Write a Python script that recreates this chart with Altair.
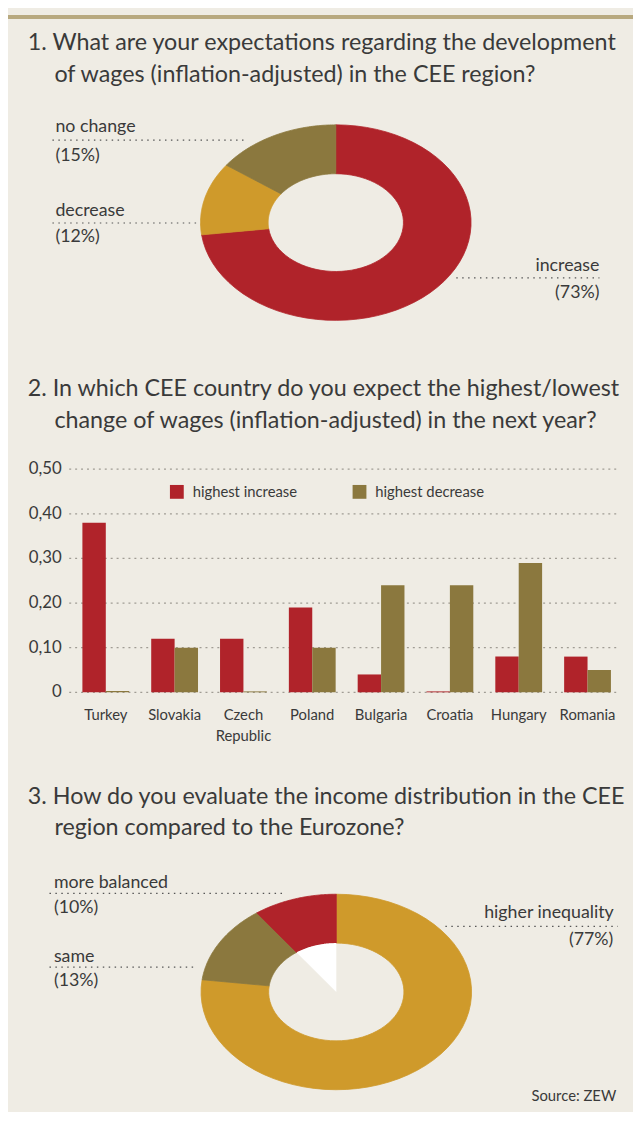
import altair as alt
import pandas as pd

# ---------------- data ----------------
Q1_CATS = ["increase", "decrease", "no change"]
Q1_VALS = [73, 12, 15]
Q1_COLORS = ["#b0232a", "#cf9a2b", "#8b783e"]

COUNTRIES = ["Turkey", "Slovakia", "Czech Republic", "Poland", "Bulgaria", "Croatia", "Hungary", "Romania"]
HIGHEST_INCREASE = [0.38, 0.12, 0.12, 0.19, 0.04, 0.002, 0.08, 0.08]
HIGHEST_DECREASE = [0.003, 0.10, 0.002, 0.10, 0.24, 0.24, 0.29, 0.05]
SERIES = ["highest increase", "highest decrease"]
SERIES_COLORS = ["#b0232a", "#8b783e"]
Y_TICKS = [0, 0.1, 0.2, 0.3, 0.4, 0.5]

Q3_CATS = ["higher inequality", "same", "more balanced"]
Q3_VALS = [77, 13, 10]
Q3_COLORS = ["#cf9a2b", "#8b783e", "#b0232a"]

FONT = "Lato"
TXT = "#3a3a3a"
BG = "#efece4"
W = 633
TS = 23.6


def blank():
    return alt.Chart(alt.Data(values=[{}]))


def txt(s, x, y, size, align="left", baseline="alphabetic", color=TXT):
    return blank().mark_text(text=s, align=align, baseline=baseline, fontSize=size,
                             font=FONT, color=color).encode(x=alt.value(x), y=alt.value(y))


def dots(x1, x2, y):
    return blank().mark_rule(color="#555555", strokeWidth=1.2, strokeDash=[1.5, 4.5]).encode(
        x=alt.value(x1), x2=alt.value(x2), y=alt.value(y))


def donut(cats, vals, colors, cx, cy, rx, ry, white_cat=None):
    df = pd.DataFrame({"cat": cats, "value": vals, "idx": list(range(len(cats)))})
    xs = alt.Scale(domain=[-1, 1], range=[cx - rx, cx + rx], nice=False, zero=False)
    ys = alt.Scale(domain=[-1, 1], range=[cy + ry, cy - ry], nice=False, zero=False)
    cs = alt.Scale(domain=cats, range=colors)
    base = (alt.Chart(df)
            .transform_window(cum="sum(value)", sort=[alt.SortField("idx")], frame=[None, 0])
            .transform_joinaggregate(total="sum(value)")
            .transform_calculate(a0="(datum.cum-datum.value)/datum.total*2*PI",
                                 a1="datum.cum/datum.total*2*PI",
                                 pts="sequence(0,122)")
            .transform_flatten(["pts"], as_=["k"])
            .transform_calculate(t="datum.k<=60 ? datum.k/60 : (121-datum.k)/60"))
    ring = (base.transform_calculate(ang="datum.a0+(datum.a1-datum.a0)*datum.t",
                                     r="datum.k<=60 ? 1 : 0.5")
            .transform_calculate(px="datum.r*sin(datum.ang)", py="datum.r*cos(datum.ang)")
            .mark_line(filled=True, interpolate="linear-closed", strokeWidth=0.8)
            .encode(x=alt.X("px:Q", scale=xs, axis=None),
                    y=alt.Y("py:Q", scale=ys, axis=None),
                    color=alt.Color("cat:N", scale=cs, legend=None),
                    stroke=alt.Stroke("cat:N", scale=cs, legend=None),
                    order=alt.Order("k:Q")))
    layers = [ring]
    if white_cat is not None:
        wedge = (base.transform_filter(alt.datum.cat == white_cat)
                 .transform_calculate(ang="datum.a0+(datum.a1-datum.a0)*datum.t",
                                      r="datum.k<=60 ? 0.5 : 0")
                 .transform_calculate(px="datum.r*sin(datum.ang)", py="datum.r*cos(datum.ang)")
                 .mark_line(filled=True, interpolate="linear-closed", strokeWidth=0, color="#ffffff")
                 .encode(x=alt.X("px:Q", scale=xs, axis=None),
                         y=alt.Y("py:Q", scale=ys, axis=None),
                         order=alt.Order("k:Q")))
        layers.append(wedge)
    return layers


# ---------------- panel 1 ----------------
p1_layers = [
    blank().mark_rect(color="#b8a97f").encode(x=alt.value(0), x2=alt.value(W), y=alt.value(0), y2=alt.value(4)),
    txt("1. What are your expectations regarding the development", 20, 35, TS),
    txt("of wages (inflation-adjusted) in the CEE region?", 47, 68, TS),
]
p1_layers += donut(Q1_CATS, Q1_VALS, Q1_COLORS, 332, 210.3, 137, 99)
p1_layers += [
    txt("no change", 48, 119, 18), dots(45, 242, 126.7), txt("(15%)", 48, 148, 18),
    txt("decrease", 48, 204, 18), dots(45, 192, 210.7), txt("(12%)", 48, 230, 18),
    txt("increase", 599, 259, 18, align="right"), dots(454, 599, 266.3),
    txt("(73%)", 599, 287, 18, align="right"),
]
p1 = alt.layer(*p1_layers).properties(width=W, height=357)

# ---------------- panel 2 ----------------
bars_df = pd.DataFrame({
    "country": COUNTRIES * 2,
    "series": [SERIES[0]] * len(COUNTRIES) + [SERIES[1]] * len(COUNTRIES),
    "value": HIGHEST_INCREASE + HIGHEST_DECREASE,
})
xscale = alt.Scale(domain=COUNTRIES, range=[75.35, 610.65], paddingInner=0.32, paddingOuter=0)
yscale = alt.Scale(domain=[0, 0.5], range=[329, 103], nice=False, zero=False)
ticks_df = pd.DataFrame({"v": Y_TICKS})

grid = (alt.Chart(ticks_df).mark_rule(color="#a09c94", strokeWidth=1.2, strokeDash=[2, 4])
        .encode(y=alt.Y("v:Q", scale=yscale, axis=None), x=alt.value(62), x2=alt.value(618)))
ylabels = (alt.Chart(ticks_df)
           .transform_calculate(lbl="datum.v == 0 ? '0' : replace(format(datum.v, '.2f'), '.', ',')")
           .mark_text(align="right", baseline="middle", fontSize=17, font=FONT, color=TXT)
           .encode(y=alt.Y("v:Q", scale=yscale, axis=None), x=alt.value(54.5), text="lbl:N"))
bars = (alt.Chart(bars_df).mark_bar()
        .encode(x=alt.X("country:N", sort=COUNTRIES, scale=xscale, axis=None),
                xOffset=alt.XOffset("series:N", sort=SERIES, scale=alt.Scale(domain=SERIES)),
                y=alt.Y("value:Q", scale=yscale, axis=None),
                color=alt.Color("series:N", scale=alt.Scale(domain=SERIES, range=SERIES_COLORS), legend=None)))
xlabels = (alt.Chart(pd.DataFrame({"country": COUNTRIES}))
           .transform_calculate(lbl="replace(datum.country, ' ', '\\n')")
           .mark_text(baseline="middle", fontSize=15, font=FONT, color=TXT, lineBreak="\n", lineHeight=21)
           .encode(x=alt.X("country:N", sort=COUNTRIES, scale=xscale, axis=None),
                   y=alt.value(352), text="lbl:N"))
p2_layers = [
    txt("2. In which CEE country do you expect the highest/lowest", 20, 29, TS),
    txt("change of wages (inflation-adjusted) in the next year?", 47, 61, TS),
    grid, ylabels, bars, xlabels,
    blank().mark_rect(color=SERIES_COLORS[0]).encode(x=alt.value(164), x2=alt.value(178), y=alt.value(119), y2=alt.value(133)),
    txt(SERIES[0], 187, 126, 15, baseline="middle"),
    blank().mark_rect(color=SERIES_COLORS[1]).encode(x=alt.value(349), x2=alt.value(363), y=alt.value(119), y2=alt.value(133)),
    txt(SERIES[1], 372, 126, 15, baseline="middle"),
]
p2 = alt.layer(*p2_layers).properties(width=W, height=395)

# ---------------- panel 3 ----------------
p3_layers = [
    txt("3. How do you evaluate the income distribution in the CEE", 20, 47, TS),
    txt("region compared to the Eurozone?", 47, 79, TS),
]
p3_layers += donut(Q3_CATS, Q3_VALS, Q3_COLORS, 332.5, 237.5, 137, 99, white_cat="more balanced")
p3_layers += [
    txt("more balanced", 46.5, 132.7, 18), dots(42, 278, 137.7), txt("(10%)", 46.5, 158, 18),
    txt("same", 46.5, 206.7, 18), dots(42, 188.6, 212.3), txt("(13%)", 46.5, 231, 18),
    txt("higher inequality", 613.5, 163, 18, align="right"), dots(443, 617.5, 171),
    txt("(77%)", 613, 190, 18, align="right"),
    txt("Source: ZEW", 616, 348, 15, align="right"),
]
p3 = alt.layer(*p3_layers).properties(width=W, height=352)

chart = (alt.vconcat(p1, p2, p3, spacing=0)
         .resolve_scale(color="independent", stroke="independent", x="independent", y="independent")
         .properties(background=BG, padding=0)
         .configure_view(stroke=None))

chart.save("out.html", embed_options={"renderer": "svg", "actions": False})
